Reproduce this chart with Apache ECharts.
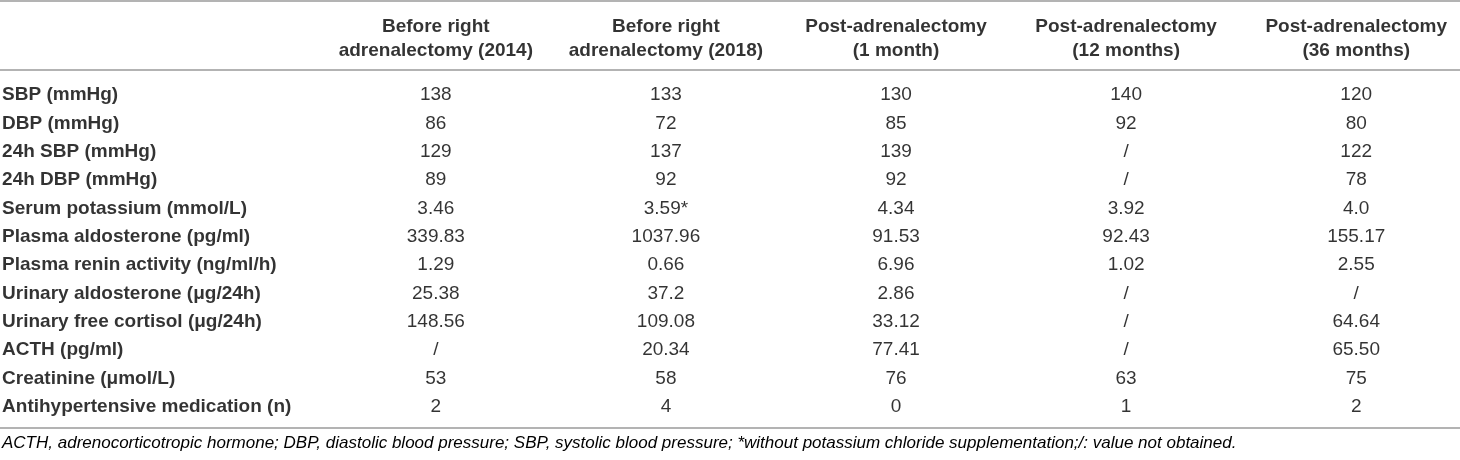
<!DOCTYPE html>
<html>
<head>
<meta charset="utf-8">
<script src="https://cdn.jsdelivr.net/npm/echarts@6/dist/echarts.min.js"></script>
<style>
  html, body { margin: 0; padding: 0; background: #fff; }
  #chart { width: 1460px; height: 460px; }
</style>
</head>
<body>
<div id="chart"></div>
<script>
// table contents
var rowLabels = [
  'SBP (mmHg)',
  'DBP (mmHg)',
  '24h SBP (mmHg)',
  '24h DBP (mmHg)',
  'Serum potassium (mmol/L)',
  'Plasma aldosterone (pg/ml)',
  'Plasma renin activity (ng/ml/h)',
  'Urinary aldosterone (\u03bcg/24h)',
  'Urinary free cortisol (\u03bcg/24h)',
  'ACTH (pg/ml)',
  'Creatinine (\u03bcmol/L)',
  'Antihypertensive medication (n)'
];
var colHeaders = [
  'Before right\nadrenalectomy (2014)',
  'Before right\nadrenalectomy (2018)',
  'Post-adrenalectomy\n(1 month)',
  'Post-adrenalectomy\n(12 months)',
  'Post-adrenalectomy\n(36 months)'
];
var before2014 = ['138', '86', '129', '89', '3.46', '339.83', '1.29', '25.38', '148.56', '/', '53', '2'];
var before2018 = ['133', '72', '137', '92', '3.59*', '1037.96', '0.66', '37.2', '109.08', '20.34', '58', '4'];
var post1m = ['130', '85', '139', '92', '4.34', '91.53', '6.96', '2.86', '33.12', '77.41', '76', '0'];
var post12m = ['140', '92', '/', '/', '3.92', '92.43', '1.02', '/', '/', '/', '63', '1'];
var post36m = ['120', '80', '122', '78', '4.0', '155.17', '2.55', '/', '64.64', '65.50', '75', '2'];
var footNote = 'ACTH, adrenocorticotropic hormone; DBP, diastolic blood pressure; SBP, systolic blood pressure; *without potassium chloride supplementation;/: value not obtained.';

var columns = [before2014, before2018, post1m, post12m, post36m];

var FONT = '"Liberation Sans", Arial, sans-serif';
var INK = '#000';
var RULE = '#9a9a9a';

// layout in axis units: x = column number (1..5), y = row number (0..11)
var labelX = -0.885;
var headerY = -1.97;
var headerRuleY = -0.88;

var chart = echarts.init(document.getElementById('chart'));

var series = [];

// row names, left aligned
series.push({
  type: 'scatter',
  symbolSize: 0,
  itemStyle: { color: 'transparent' },
  data: rowLabels.map(function (name, i) { return [labelX, i, name]; }),
  label: {
    show: true,
    position: 'right',
    distance: 0,
    formatter: function (p) { return p.data[2]; },
    fontFamily: FONT,
    fontSize: 19,
    fontWeight: 'bold',
    color: INK
  },
  markLine: {
    silent: true,
    symbol: 'none',
    label: { show: false },
    lineStyle: { color: RULE, width: 1.5, type: 'solid' },
    data: [{ yAxis: headerRuleY }]
  }
});

// column headers
series.push({
  type: 'scatter',
  symbolSize: 0,
  itemStyle: { color: 'transparent' },
  data: colHeaders.map(function (h, i) { return [i + 1, headerY, h]; }),
  label: {
    show: true,
    position: 'inside',
    formatter: function (p) { return p.data[2]; },
    fontFamily: FONT,
    fontSize: 19,
    fontWeight: 'bold',
    lineHeight: 24,
    align: 'center',
    color: INK
  }
});

// values, one series per column
columns.forEach(function (col, c) {
  series.push({
    type: 'scatter',
    symbolSize: 0,
    itemStyle: { color: 'transparent' },
    data: col.map(function (v, r) { return [c + 1, r, v]; }),
    label: {
      show: true,
      position: 'inside',
      formatter: function (p) { return p.data[2]; },
      fontFamily: FONT,
      fontSize: 19,
      align: 'center',
      color: INK
    }
  });
});

var xCommon = {
  type: 'value',
  min: -0.894,
  max: 5.451,
  axisLine: { show: true, onZero: false, lineStyle: { color: RULE, width: 1.5 } },
  axisTick: { show: false },
  axisLabel: { show: false },
  splitLine: { show: false }
};

var option = {
  animation: false,
  backgroundColor: '#fff',
  title: {
    text: footNote,
    left: 0,
    top: 435,
    padding: [0, 2],
    textStyle: {
      fontFamily: FONT,
      fontSize: 17,
      fontStyle: 'italic',
      fontWeight: 'normal',
      color: INK
    }
  },
  grid: { left: 0, right: 0, top: 1, bottom: 32 },
  xAxis: [
    xCommon,
    Object.assign({}, xCommon, { position: 'top' })
  ],
  yAxis: {
    type: 'value',
    inverse: true,
    min: -3.314,
    max: 11.742,
    axisLine: { show: false },
    axisTick: { show: false },
    axisLabel: { show: false },
    splitLine: { show: false }
  },
  series: series
};

chart.setOption(option);
</script>
</body>
</html>
